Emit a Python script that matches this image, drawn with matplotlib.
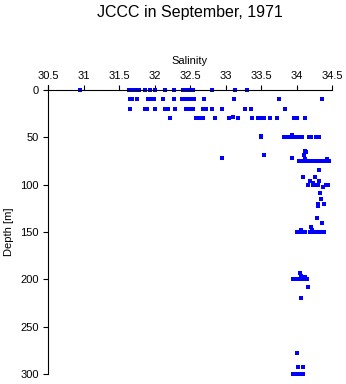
import numpy as np
from matplotlib import pyplot as plt

plt.rcParams['font.family'] = ['Liberation Sans', 'DejaVu Sans']

# salinity / depth samples, grouped by depth level
sal_0 = [30.95, 31.64, 31.67, 31.73, 31.78, 31.87, 31.94, 32.01, 32.15, 32.27,
         32.40, 32.44, 32.49, 32.54, 32.81, 33.13, 33.30]
sal_10 = [31.65, 31.69, 31.75, 31.91, 31.95, 31.99, 32.12, 32.27, 32.39, 32.43,
          32.47, 32.51, 32.56, 32.70, 33.12, 33.75, 34.36]
sal_20 = [31.66, 31.86, 31.89, 32.01, 32.15, 32.19, 32.29, 32.44, 32.50, 32.54,
          32.68, 32.73, 32.81, 32.95, 33.27, 33.36, 33.84]
sal_30 = [32.22, 32.58, 32.64, 32.68, 32.85, 33.05, 33.18, 33.37, 33.46, 33.50,
          33.54, 33.63, 33.73, 33.96, 34.01, 34.12]
sal_50 = [33.50, 33.82, 33.87, 33.91, 33.95, 33.99, 34.05, 34.08, 34.18, 34.20,
          34.27, 34.32]
sal_75 = [34.04, 34.09, 34.13, 34.17, 34.22, 34.26, 34.30, 34.34, 34.38, 34.42,
          34.46]
sal_100 = [34.16, 34.23, 34.26, 34.30, 34.41, 34.44]
sal_150 = [34.01, 34.04, 34.08, 34.12, 34.19, 34.22, 34.25, 34.29, 34.33, 34.39]
sal_200 = [33.95, 33.98, 34.02, 34.05, 34.09, 34.13, 34.15]
sal_300 = [33.95, 33.99, 34.03, 34.07, 34.09]

# scattered samples between the standard levels
sal_mid = [33.10, 33.94, 33.50, 34.12, 34.13, 33.54, 34.11, 32.95, 33.94, 34.12,
           34.43, 34.32, 34.09, 34.26, 34.19, 34.32, 34.23, 34.37, 34.33, 34.35,
           34.30, 34.39, 34.30, 34.29, 34.36, 34.20, 34.07, 34.22, 34.05, 34.06,
           34.12, 34.16, 34.06, 34.01, 34.02, 34.09]
dep_mid = [28, 48, 49, 64, 65, 69, 69, 72, 72, 73,
           73, 85, 92, 92, 96, 96, 98, 102, 109, 115,
           120, 120, 123, 135, 140, 145, 148, 148, 193, 196,
           198, 208, 220, 278, 293, 293]

levels = [(0, sal_0), (10, sal_10), (20, sal_20), (30, sal_30), (50, sal_50),
          (75, sal_75), (100, sal_100), (150, sal_150), (200, sal_200),
          (300, sal_300)]

salinity = list(sal_mid)
depth = list(dep_mid)
for d, s in levels:
    salinity += s
    depth += [d] * len(s)

fig = plt.figure(figsize=(3.46, 3.84), dpi=100)
ax = fig.add_axes([48/346, 10/384, 284/346, 284/384])

ax.plot(salinity, depth, 's', color='#0000ff', ms=2.3, mew=0, clip_on=False)

ax.set_xlim(30.5, 34.5)
ax.set_ylim(300, 0)
ax.set_xticks(np.arange(30.5, 34.51, 0.5))
ax.set_xticklabels(['30.5', '31', '31.5', '32', '32.5', '33', '33.5', '34', '34.5'])
ax.set_yticks(np.arange(0, 301, 50))

ax.xaxis.tick_top()
ax.xaxis.set_label_position('top')
ax.set_xlabel('Salinity', fontsize=8, labelpad=5)
ax.set_ylabel('Depth [m]', fontsize=8, labelpad=5)

for side in ['right', 'bottom']:
    ax.spines[side].set_visible(False)
ax.spines['top'].set_linewidth(0.8)
ax.spines['left'].set_linewidth(0.8)
ax.spines['left'].set_bounds(-5, 300)

ax.tick_params(axis='both', direction='out', length=3.5, width=0.8,
               labelsize=8, pad=3)

fig.text(190/346, 1 - 13/384, 'JCCC in September, 1971', ha='center',
         va='center', fontsize=11.5)

fig.savefig('out.png', dpi=100)
